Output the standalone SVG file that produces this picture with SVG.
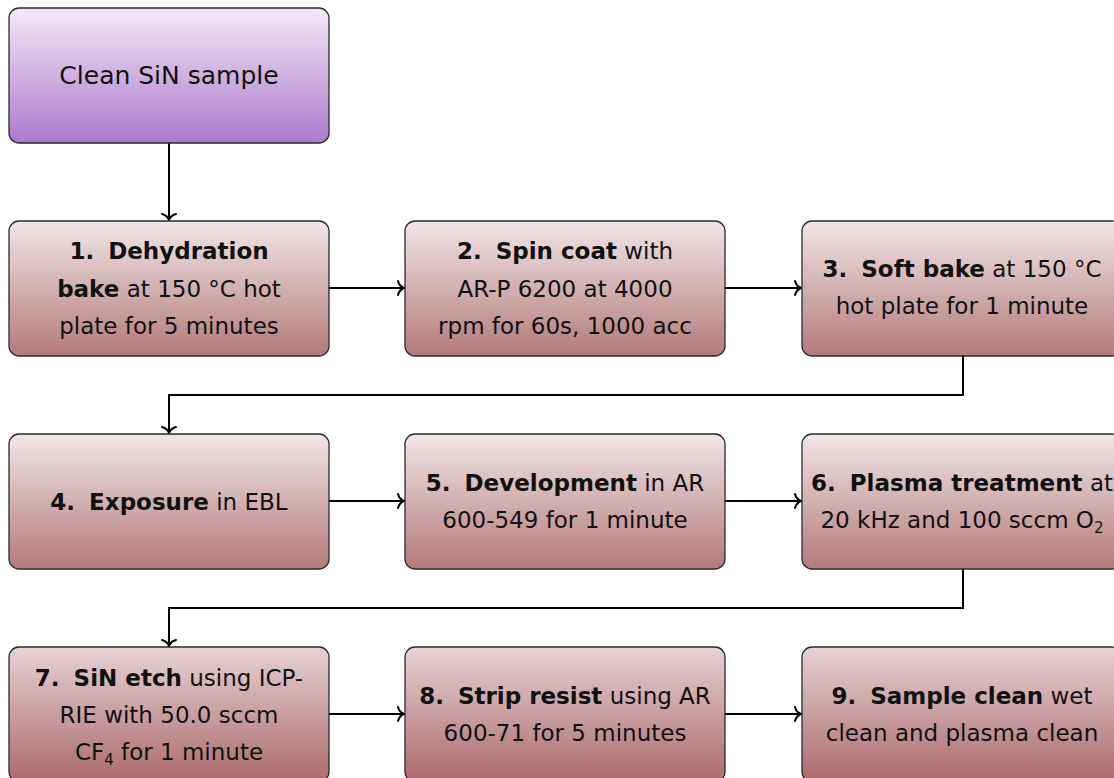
<svg xmlns="http://www.w3.org/2000/svg" width="1114" height="778" viewBox="0 0 1114 778">
<defs>
<linearGradient id="gp" x1="0" y1="0" x2="0" y2="1"><stop offset="0" stop-color="#f2e9f6"/><stop offset="1" stop-color="#ad79cc"/></linearGradient>
<linearGradient id="gr" x1="0" y1="0" x2="0" y2="1"><stop offset="0" stop-color="#f1e6e7"/><stop offset="1" stop-color="#b37a7b"/></linearGradient>
<linearGradient id="gr3" x1="0" y1="0" x2="0" y2="1"><stop offset="0" stop-color="#e6d2d4"/><stop offset="1" stop-color="#ab6a6d"/></linearGradient>
<marker id="ar" markerUnits="userSpaceOnUse" markerWidth="16" markerHeight="20" viewBox="-9 -10 11 20" refX="0" refY="0" orient="auto">
<path d="M-6,-7 C-5,-3 -1.5,-0.6 0,0 C-1.5,0.6 -5,3 -6,7" fill="none" stroke="#000" stroke-width="2" stroke-linecap="round"/>
</marker>
<style>
.b{stroke:#2a2a2a;stroke-width:1.3}
.t{font-family:"DejaVu Sans",sans-serif;font-size:23px;fill:#111;text-anchor:middle}
.k{font-weight:bold}
.c{fill:none;stroke:#000;stroke-width:2}
.s{font-size:15px}
</style>
</defs>
<g id="connectors">
<path class="c" d="M169,143 V220" marker-end="url(#ar)"/>
<path class="c" d="M329,288 H404" marker-end="url(#ar)"/>
<path class="c" d="M725,288 H801" marker-end="url(#ar)"/>
<path class="c" d="M963,356 V395 H169 V433" marker-end="url(#ar)"/>
<path class="c" d="M329,501 H404" marker-end="url(#ar)"/>
<path class="c" d="M725,501 H801" marker-end="url(#ar)"/>
<path class="c" d="M963,569 V608 H169 V646" marker-end="url(#ar)"/>
<path class="c" d="M329,714 H404" marker-end="url(#ar)"/>
<path class="c" d="M725,714 H801" marker-end="url(#ar)"/>
</g>
<g id="n0"><rect class="b" x="9" y="8" width="320" height="135" rx="10" fill="url(#gp)"/>
<text class="t" x="169" y="84" style="font-size:25px">Clean SiN sample</text></g>
<g id="n1"><rect class="b" x="9" y="221" width="320" height="135" rx="10" fill="url(#gr)"/>
<text class="t" x="169" y="259"><tspan class="k">1. <tspan dx="6">Dehydration</tspan></tspan></text>
<text class="t" x="169" y="297"><tspan class="k">bake</tspan> at 150 °C hot</text>
<text class="t" x="169" y="334">plate for 5 minutes</text></g>
<g id="n2"><rect class="b" x="405" y="221" width="320" height="135" rx="10" fill="url(#gr)"/>
<text class="t" x="565" y="259"><tspan class="k">2. <tspan dx="6">Spin coat</tspan></tspan> with</text>
<text class="t" x="565" y="297">AR-P 6200 at 4000</text>
<text class="t" x="565" y="334">rpm for 60s, 1000 acc</text></g>
<g id="n3"><rect class="b" x="802" y="221" width="320" height="135" rx="10" fill="url(#gr)"/>
<text class="t" x="962" y="277"><tspan class="k">3. <tspan dx="6">Soft bake</tspan></tspan> at 150 °C</text>
<text class="t" x="962" y="314">hot plate for 1 minute</text></g>
<g id="n4"><rect class="b" x="9" y="434" width="320" height="135" rx="10" fill="url(#gr)"/>
<text class="t" x="169" y="510"><tspan class="k">4. <tspan dx="6">Exposure</tspan></tspan> in EBL</text></g>
<g id="n5"><rect class="b" x="405" y="434" width="320" height="135" rx="10" fill="url(#gr)"/>
<text class="t" x="565" y="491"><tspan class="k">5. <tspan dx="6">Development</tspan></tspan> in AR</text>
<text class="t" x="565" y="528">600-549 for 1 minute</text></g>
<g id="n6"><rect class="b" x="802" y="434" width="320" height="135" rx="10" fill="url(#gr)"/>
<text class="t" x="962" y="491"><tspan class="k">6. <tspan dx="6">Plasma treatment</tspan></tspan> at</text>
<text class="t" x="962" y="528">20 kHz and 100 sccm O<tspan class="s" dy="5">2</tspan></text></g>
<g id="n7"><rect class="b" x="9" y="647" width="320" height="135" rx="10" fill="url(#gr3)"/>
<text class="t" x="169" y="686"><tspan class="k">7. <tspan dx="6">SiN etch</tspan></tspan> using ICP-</text>
<text class="t" x="169" y="723">RIE with 50.0 sccm</text>
<text class="t" x="169" y="760">CF<tspan class="s" dy="5">4</tspan><tspan dy="-5"> for 1 minute</tspan></text></g>
<g id="n8"><rect class="b" x="405" y="647" width="320" height="135" rx="10" fill="url(#gr3)"/>
<text class="t" x="565" y="704"><tspan class="k">8. <tspan dx="6">Strip resist</tspan></tspan> using AR</text>
<text class="t" x="565" y="741">600-71 for 5 minutes</text></g>
<g id="n9"><rect class="b" x="802" y="647" width="320" height="135" rx="10" fill="url(#gr3)"/>
<text class="t" x="962" y="704"><tspan class="k">9. <tspan dx="6">Sample clean</tspan></tspan> wet</text>
<text class="t" x="962" y="741">clean and plasma clean</text></g>
</svg>
